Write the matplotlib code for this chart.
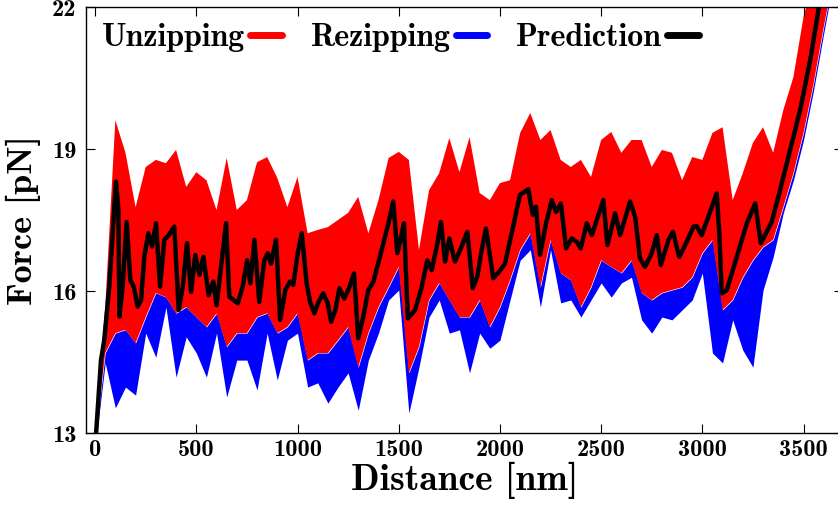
import matplotlib
matplotlib.use("Agg")
import matplotlib.pyplot as plt
from matplotlib.lines import Line2D

plt.rcParams['font.family'] = ['cmb10', 'DejaVu Serif']
plt.rcParams['axes.unicode_minus'] = False
plt.rcParams['mathtext.fontset'] = 'cm'

# sampled envelope of the measured traces (nm, pN)
dist = [0, 50, 100, 150, 200, 250, 300, 350, 400, 450,
        500, 550, 600, 650, 700, 750, 800, 850, 900, 950,
        1000, 1050, 1100, 1150, 1200, 1250, 1300, 1350, 1400, 1450,
        1500, 1550, 1600, 1650, 1700, 1750, 1800, 1850, 1900, 1950,
        2000, 2050, 2100, 2150, 2200, 2250, 2300, 2350, 2400, 2450,
        2500, 2550, 2600, 2650, 2700, 2750, 2800, 2850, 2900, 2950,
        3000, 3050, 3100, 3150, 3200, 3250, 3300, 3350, 3400, 3450,
        3500, 3550, 3600, 3650]

unzip_hi = [13.1, 15.66, 19.61, 18.92, 17.77, 18.62, 18.77, 18.70, 18.98, 18.20,
            18.51, 18.34, 17.71, 18.81, 17.71, 17.92, 18.72, 18.83, 18.39, 17.77,
            18.41, 17.22, 17.29, 17.35, 17.50, 17.65, 17.99, 17.22, 17.92, 18.81,
            18.94, 18.77, 16.87, 18.13, 18.49, 19.23, 18.51, 19.25, 18.07, 17.92,
            18.28, 18.34, 19.34, 19.76, 19.19, 19.40, 18.77, 18.62, 18.77, 18.41,
            19.19, 19.36, 18.92, 19.19, 19.19, 18.62, 18.98, 18.92, 18.34, 18.83,
            18.77, 19.34, 19.46, 17.92, 18.49, 19.13, 19.46, 18.92, 19.82, 20.52,
            21.79, 22.6, 23.2, 23.8]

unzip_lo = [12.8, 14.69, 15.11, 15.18, 14.90, 15.45, 15.96, 15.87, 15.53, 15.66,
            15.45, 15.24, 15.53, 14.82, 15.11, 15.11, 15.45, 15.53, 15.11, 15.24,
            15.53, 14.54, 14.69, 14.69, 14.96, 15.24, 14.39, 15.11, 15.66, 16.08,
            16.51, 14.27, 14.82, 15.81, 16.17, 15.81, 15.45, 15.45, 15.81, 15.24,
            15.66, 16.23, 16.87, 17.22, 16.08, 17.08, 16.38, 16.23, 15.66, 16.08,
            16.65, 16.51, 16.38, 16.65, 15.96, 15.81, 15.96, 16.02, 16.08, 16.29,
            16.80, 17.08, 15.60, 15.81, 16.29, 16.65, 16.93, 17.08, 17.77, 18.49,
            19.34, 20.39, 21.58, 22.7]

rezip_lo = [12.7, 14.48, 13.53, 13.97, 13.80, 15.11, 14.60, 15.66, 14.18, 15.03,
            14.69, 14.18, 15.11, 13.76, 14.54, 14.54, 13.91, 15.11, 14.12, 14.96,
            15.11, 13.97, 14.06, 13.63, 13.97, 14.27, 13.48, 14.54, 15.11, 15.81,
            16.02, 13.42, 14.39, 15.45, 15.81, 15.11, 15.18, 14.27, 15.11, 14.79,
            14.96, 15.81, 16.65, 16.87, 15.66, 16.87, 15.75, 15.81, 15.45, 15.81,
            16.17, 15.87, 16.17, 16.29, 15.39, 15.11, 15.45, 15.39, 15.60, 15.81,
            16.38, 14.69, 14.48, 15.39, 14.75, 14.39, 16.02, 16.72, 17.65, 18.34,
            19.19, 20.25, 21.45, 22.6]

pred_x = [5, 29, 45, 70, 87, 103, 115, 120, 136, 156, 174, 191, 210, 227, 243,
          263, 281, 301, 321, 342, 364, 391, 413, 433, 454, 474, 495, 515, 535,
          561, 584, 600, 622, 647, 663, 705, 729, 751, 767, 787, 811, 836, 853,
          869, 894, 914, 940, 963, 979, 1001, 1021, 1045, 1062, 1083, 1104, 1127,
          1149, 1166, 1187, 1207, 1231, 1251, 1279, 1300, 1325, 1350, 1375, 1416,
          1449, 1473, 1493, 1510, 1526, 1545, 1581, 1614, 1641, 1663, 1688, 1709,
          1729, 1750, 1778, 1811, 1839, 1866, 1888, 1910, 1931, 1967, 1997, 2025,
          2058, 2099, 2140, 2162, 2178, 2198, 2228, 2256, 2277, 2301, 2327, 2355,
          2380, 2399, 2429, 2454, 2511, 2531, 2569, 2594, 2643, 2668, 2692, 2717,
          2750, 2775, 2795, 2833, 2855, 2886, 2923, 2956, 2972, 2997, 3030, 3071,
          3084, 3096, 3121, 3170, 3220, 3261, 3289, 3343, 3384, 3434, 3483, 3533,
          3574, 3592]
pred_y = [13.0, 14.54, 14.96, 16.09, 17.22, 18.31, 17.71, 15.46, 16.09, 17.46,
          16.23, 16.09, 15.67, 15.81, 16.72, 17.22, 16.94, 17.43, 16.09, 17.08,
          17.18, 17.36, 15.60, 16.09, 17.01, 15.98, 16.76, 16.34, 16.72, 15.91,
          16.20, 15.70, 16.51, 17.43, 15.88, 15.74, 16.09, 16.65, 16.16, 17.08,
          15.77, 16.65, 16.80, 16.58, 17.08, 15.39, 16.02, 16.20, 16.13, 16.80,
          17.22, 16.16, 15.77, 15.53, 15.77, 15.95, 15.74, 15.35, 15.60, 16.06,
          15.84, 16.02, 16.37, 15.00, 15.46, 16.02, 16.20, 16.87, 17.43, 17.89,
          16.80, 17.11, 17.43, 15.42, 15.60, 16.09, 16.65, 16.44, 16.94, 17.46,
          16.62, 17.11, 16.62, 16.94, 17.25, 16.06, 16.30, 16.87, 17.32, 16.27,
          16.41, 16.58, 17.22, 18.03, 18.15, 17.61, 17.78, 16.76, 17.43, 17.92,
          17.67, 17.85, 16.90, 17.11, 17.04, 16.90, 17.43, 17.18, 17.92, 16.97,
          17.64, 17.18, 17.89, 17.57, 16.69, 16.51, 16.80, 17.18, 16.55, 17.08,
          17.25, 16.72, 17.04, 17.36, 17.37, 17.18, 17.57, 18.06, 17.22, 15.95,
          16.02, 16.72, 17.43, 17.85, 17.01, 17.46, 18.13, 18.98, 19.82, 20.88,
          21.94, 22.36]

xticks = [0, 500, 1000, 1500, 2000, 2500, 3000, 3500]
yticks = [13, 16, 19, 22]

fig = plt.figure(figsize=(8.38, 5.07), dpi=100)
ax = fig.add_axes([86 / 838, 74 / 507, 757 / 838, 426 / 507])

ax.fill_between(dist, rezip_lo, unzip_lo, color='#0000ff', lw=0)
ax.fill_between(dist, unzip_lo, unzip_hi, color='#ff0000', lw=0)
ax.plot(pred_x, pred_y, color='black', lw=3.2, solid_joinstyle='round')

ax.set_xlim(-45, 3695)
ax.set_ylim(13, 22)
ax.set_xticks(xticks)
ax.set_yticks(yticks)
ax.tick_params(direction='in', length=6.5, width=0.8, top=True, right=True,
               labelsize=17.5)
ax.tick_params(axis='y', pad=7)
ax.tick_params(axis='x', pad=4)
for s in ax.spines.values():
    s.set_linewidth(1.0)

ax.set_xlabel('Distance [nm]', fontsize=27, labelpad=1)
ax.set_ylabel('Force [pN]', fontsize=26, labelpad=8)

handles = [Line2D([], [], color='#ff0000', lw=5, solid_capstyle='round'),
           Line2D([], [], color='#0000ff', lw=5, solid_capstyle='round'),
           Line2D([], [], color='black', lw=5, solid_capstyle='round')]
leg = ax.legend(handles, ['Unzipping', 'Rezipping', 'Prediction'],
                loc='upper left', bbox_to_anchor=(0.0, 1.0), ncol=3,
                markerfirst=False, frameon=False, fontsize=23,
                handlelength=1.0, handletextpad=0.15, columnspacing=0.9,
                borderaxespad=0.1)

fig.savefig('out.png', dpi=100)
